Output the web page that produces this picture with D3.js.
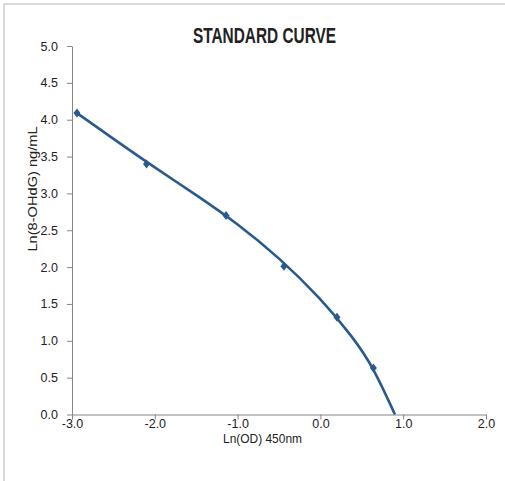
<!DOCTYPE html>
<html>
<head>
<meta charset="utf-8">
<script src="https://cdn.jsdelivr.net/npm/d3@7"></script>
<style>
  body { margin: 0; background: #fff; }
  text { font-family: "Liberation Sans", Arial, sans-serif; fill: #222; }
</style>
</head>
<body>
<script>
const width = 505, height = 481;

// standards
const lnOD = [-2.94, -2.10, -1.14, -0.44, 0.20, 0.64];
const lnConc = [4.09, 3.40, 2.70, 2.01, 1.32, 0.63];

// trendline, sampled along the drawn curve
const fitX = [-2.94, -2.50, -2.00, -1.50, -1.00, -0.50, 0.00, 0.40, 0.64, 0.90];
const fitY = [4.09, 3.74, 3.35, 2.98, 2.59, 2.13, 1.58, 1.04, 0.64, 0.00];

const xTicks = [-3, -2, -1, 0, 1, 2];
const yTicks = [0, 0.5, 1, 1.5, 2, 2.5, 3, 3.5, 4, 4.5, 5];

const svg = d3.select('body').append('svg')
    .attr('width', width)
    .attr('height', height);

// outer frame (cut off on right and bottom)
svg.append('rect')
    .attr('x', 4).attr('y', 4)
    .attr('width', 600).attr('height', 600)
    .attr('fill', 'none')
    .attr('stroke', '#d9d9d9')
    .attr('stroke-width', 2);

const xScale = d3.scaleLinear().domain([-3, 2]).range([72, 486]);
const yScale = d3.scaleLinear().domain([0, 5]).range([414.5, 46]);

const fmt = d => d.toFixed(1);

// x axis
const xAxis = svg.append('g')
    .attr('transform', `translate(0,${yScale(0)})`)
    .call(d3.axisBottom(xScale).tickValues(xTicks).tickFormat(fmt).tickSize(5).tickSizeOuter(0));

// y axis
const yAxis = svg.append('g')
    .attr('transform', `translate(${xScale(-3)},0)`)
    .call(d3.axisLeft(yScale).tickValues(yTicks).tickFormat(fmt).tickSize(5).tickSizeOuter(0));

[xAxis, yAxis].forEach(g => {
  g.select('.domain').attr('stroke', '#868686');
  g.selectAll('.tick line').attr('stroke', '#868686');
  g.selectAll('.tick text')
    .attr('font-family', '"Liberation Sans", Arial, sans-serif')
    .attr('font-size', 12.5)
    .attr('fill', '#222');
});
xAxis.selectAll('.tick text').attr('dy', null).attr('y', 0).attr('transform', 'translate(0,13.5)');
yAxis.selectAll('.tick text').attr('x', -14);

// title
svg.append('text')
    .attr('x', 264.5).attr('y', 42.5)
    .attr('text-anchor', 'middle')
    .attr('font-size', 22)
    .attr('font-weight', 700)
    .attr('textLength', 143)
    .attr('lengthAdjust', 'spacingAndGlyphs')
    .text('STANDARD CURVE');

// axis titles
svg.append('text')
    .attr('x', 262.5).attr('y', 443)
    .attr('text-anchor', 'middle')
    .attr('font-size', 13.5)
    .attr('textLength', 79)
    .attr('lengthAdjust', 'spacingAndGlyphs')
    .text('Ln(OD) 450nm');

svg.append('text')
    .attr('transform', 'translate(37,189) rotate(-90)')
    .attr('text-anchor', 'middle')
    .attr('font-size', 12)
    .attr('textLength', 125)
    .attr('lengthAdjust', 'spacingAndGlyphs')
    .text('Ln(8-OHdG) ng/mL');

// trendline
const fitPts = fitX.map((x, i) => [x, fitY[i]]);
svg.append('path')
    .datum(fitPts)
    .attr('fill', 'none')
    .attr('stroke', '#285a8e')
    .attr('stroke-width', 2.6)
    .attr('d', d3.line().x(d => xScale(d[0])).y(d => yScale(d[1])).curve(d3.curveBasis));

// markers
const pts = lnOD.map((x, i) => [x, lnConc[i]]);
svg.append('g').selectAll('path')
    .data(pts)
    .enter().append('path')
    .attr('transform', d => `translate(${xScale(d[0])},${yScale(d[1])})`)
    .attr('d', 'M0,-4.5L3.5,0L0,4.5L-3.5,0Z')
    .attr('fill', '#285a8e');
</script>
</body>
</html>
